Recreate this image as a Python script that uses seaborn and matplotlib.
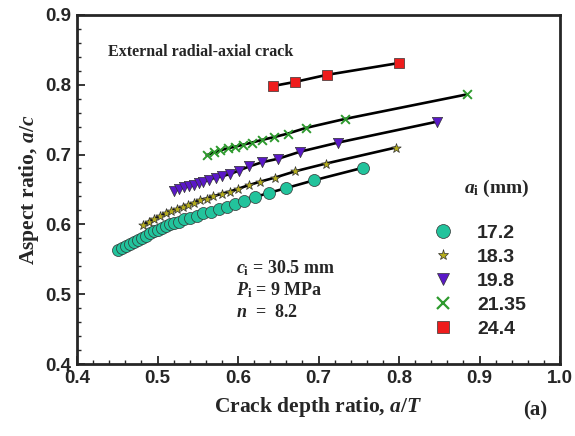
import matplotlib
matplotlib.use("Agg")
import matplotlib.pyplot as plt
from matplotlib.ticker import MultipleLocator
import seaborn as sns
import pandas as pd

# crack depth ratio a/T and aspect ratio a/c for each initial depth a_i (mm)
at_172 = [0.451, 0.456, 0.461, 0.466, 0.471, 0.476, 0.481, 0.486, 0.491, 0.496,
          0.501, 0.506, 0.511, 0.516, 0.521, 0.527, 0.533, 0.540, 0.549, 0.557,
          0.566, 0.576, 0.586, 0.596, 0.607, 0.621, 0.638, 0.660, 0.694, 0.755]
ac_172 = [0.563, 0.566, 0.569, 0.572, 0.575, 0.578, 0.581, 0.584, 0.587, 0.590,
          0.592, 0.595, 0.597, 0.600, 0.602, 0.604, 0.607, 0.609, 0.612, 0.616,
          0.618, 0.622, 0.625, 0.629, 0.634, 0.639, 0.645, 0.652, 0.663, 0.681]

at_183 = [0.482, 0.489, 0.496, 0.503, 0.510, 0.517, 0.524, 0.531, 0.538, 0.545,
          0.553, 0.561, 0.569, 0.580, 0.590, 0.600, 0.613, 0.627, 0.646, 0.671,
          0.709, 0.796]
ac_183 = [0.599, 0.604, 0.608, 0.612, 0.616, 0.619, 0.622, 0.625, 0.628, 0.631,
          0.635, 0.637, 0.640, 0.644, 0.647, 0.651, 0.656, 0.661, 0.667, 0.676,
          0.687, 0.710]

at_198 = [0.520, 0.527, 0.533, 0.539, 0.545, 0.551, 0.557, 0.564, 0.572, 0.580,
          0.590, 0.601, 0.614, 0.630, 0.650, 0.677, 0.724, 0.847]
ac_198 = [0.648, 0.651, 0.653, 0.655, 0.656, 0.659, 0.661, 0.664, 0.667, 0.669,
          0.672, 0.677, 0.683, 0.689, 0.694, 0.704, 0.717, 0.747]

at_2135 = [0.561, 0.570, 0.578, 0.587, 0.596, 0.606, 0.617, 0.630, 0.645, 0.662,
           0.684, 0.733, 0.884]
ac_2135 = [0.699, 0.703, 0.706, 0.709, 0.711, 0.714, 0.717, 0.721, 0.725, 0.730,
           0.738, 0.751, 0.786]

at_244 = [0.643, 0.671, 0.710, 0.800]
ac_244 = [0.798, 0.804, 0.814, 0.831]

labels = ["17.2", "18.3", "19.8", "21.35", "24.4"]
series_at = [at_172, at_183, at_198, at_2135, at_244]
series_ac = [ac_172, ac_183, ac_198, ac_2135, ac_244]

colors = ["#22c39c", "#b5ad1c", "#5a18c8", "#2e9a2e", "#ee1c1c"]
markers = ["o", "*", "v", "x", "s"]
msizes = [75, 50, 55, 40, 48]

rows = []
for lab, xs, ys in zip(labels, series_at, series_ac):
    for x, y in zip(xs, ys):
        rows.append({"aT": x, "ac": y, "ai": lab})
df = pd.DataFrame(rows)

sns.set_style("ticks")
serif = ["Liberation Serif", "DejaVu Serif"]
sans = ["Liberation Sans", "DejaVu Sans"]
plt.rcParams["font.family"] = sans
plt.rcParams["mathtext.fontset"] = "custom"
plt.rcParams["mathtext.rm"] = "Liberation Serif:bold"
plt.rcParams["mathtext.bf"] = "Liberation Serif:bold"
plt.rcParams["mathtext.it"] = "Liberation Serif:bold:italic"

fig = plt.figure(figsize=(5.75, 4.36), dpi=100)
ax = fig.add_axes([0.134, 0.165, 0.840, 0.801])

sns.lineplot(data=df, x="aT", y="ac", units="ai", estimator=None, sort=False,
             color="black", linewidth=1.9, ax=ax, legend=False)

handles = []
for lab, col, mk, sz in zip(labels, colors, markers, msizes):
    sub = df[df["ai"] == lab]
    if mk == "x":
        sns.scatterplot(data=sub, x="aT", y="ac", marker=mk, color=col, s=sz,
                        linewidth=1.4, ax=ax, zorder=3, legend=False)
    else:
        sns.scatterplot(data=sub, x="aT", y="ac", marker=mk, color=col, s=sz,
                        edgecolor="#333333", linewidth=0.5, ax=ax, zorder=3,
                        legend=False)
    h = plt.Line2D([], [], linestyle="none", marker=mk, color=col,
                   markeredgecolor=(col if mk == "x" else "#333333"),
                   markeredgewidth=(1.6 if mk == "x" else 0.5),
                   markersize=(10 if mk == "o" else 8))
    handles.append(h)

ax.set_xlim(0.4, 1.0)
ax.set_ylim(0.4, 0.9)
ax.xaxis.set_major_locator(MultipleLocator(0.1))
ax.xaxis.set_minor_locator(MultipleLocator(0.02))
ax.yaxis.set_major_locator(MultipleLocator(0.1))
ax.yaxis.set_minor_locator(MultipleLocator(0.02))
ax.tick_params(which="major", direction="in", length=6, width=1.3,
               labelsize=13.5, pad=4)
ax.tick_params(which="minor", direction="in", length=3, width=1.0)
for t in ax.get_xticklabels() + ax.get_yticklabels():
    t.set_fontweight("bold")
for s in ax.spines.values():
    s.set_visible(True)
    s.set_linewidth(2.0)

ax.set_xlabel("Crack depth ratio, $a/T$", family=serif, fontweight="bold",
              fontsize=15.5, labelpad=6)
ax.set_ylabel("Aspect ratio, $a/c$", family=serif, fontweight="bold",
              fontsize=15.5, labelpad=3)

ax.text(0.439, 0.847, "External radial-axial crack", family=serif,
        fontweight="bold", fontsize=11.5, ha="left", va="center")
ax.text(0.598, 0.537, "$c_\\mathrm{i}$ = 30.5 mm", family=serif,
        fontweight="bold", fontsize=13, ha="left", va="center")
ax.text(0.598, 0.506, "$P_\\mathrm{i}$ = 9 MPa", family=serif,
        fontweight="bold", fontsize=13, ha="left", va="center")
ax.text(0.598, 0.474, "$n$  =  8.2", family=serif,
        fontweight="bold", fontsize=13, ha="left", va="center")
ax.text(0.922, 0.652, "$a_\\mathrm{i}$ (mm)", family=serif,
        fontweight="bold", fontsize=14, ha="center", va="center")

leg = ax.legend(handles, labels, loc="upper left", bbox_to_anchor=(0.718, 0.40),
                frameon=False, borderaxespad=0, borderpad=0,
                handletextpad=0.74, labelspacing=0.33,
                prop={"family": sans, "weight": "bold", "size": 14})

fig.text(0.93, 0.058, "(a)", family=serif, fontweight="bold", fontsize=15,
         ha="center", va="center")

fig.savefig("out.png", dpi=100)
